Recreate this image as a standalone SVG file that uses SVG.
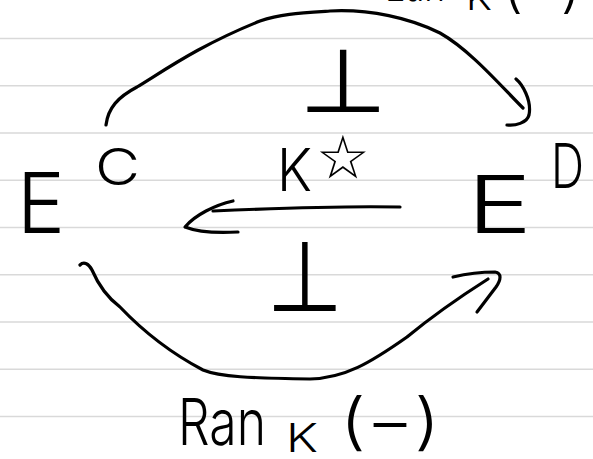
<svg xmlns="http://www.w3.org/2000/svg" width="593" height="459" viewBox="0 0 593 459">
  <style>
    .rule { stroke: #d9d9d9; stroke-width: 1.6; }
    .ink { fill: none; stroke: #000; stroke-width: 3.2; stroke-linecap: round; stroke-linejoin: round; }
    .t { font-family: Inter, "Liberation Sans", "DejaVu Sans", sans-serif; font-weight: 300; fill: #000; }
    .sym { font-family: "DejaVu Sans", sans-serif; fill: #000; }
  </style>
  <rect width="593" height="459" fill="#fff"/>
  <g id="paper">
    <line class="rule" x1="0" y1="38.5" x2="593" y2="38.5"/>
    <line class="rule" x1="0" y1="85.75" x2="593" y2="85.75"/>
    <line class="rule" x1="0" y1="133" x2="593" y2="133"/>
    <line class="rule" x1="0" y1="180.25" x2="593" y2="180.25"/>
    <line class="rule" x1="0" y1="227.5" x2="593" y2="227.5"/>
    <line class="rule" x1="0" y1="274.75" x2="593" y2="274.75"/>
    <line class="rule" x1="0" y1="322" x2="593" y2="322"/>
    <line class="rule" x1="0" y1="369.25" x2="593" y2="369.25"/>
    <line class="rule" x1="0" y1="416.5" x2="593" y2="416.5"/>
  </g>
  <g id="connectors">
    <g id="top-arrow">
      <path class="ink" d="M106,125 C108,108 118,97 137,87 C165,70 200,45 260,21 C280,14 300,13 330,11 C370,9 410,18 440,33 C470,50 500,85 523,108"/>
      <path class="ink" d="M516,79 C522,84 532,100 529,115 C527,123 515,126 507,125"/>
    </g>
    <g id="middle-arrow">
      <path class="ink" d="M400,207 C350,206 280,208 213,211"/>
      <path class="ink" d="M233,201 C215,205 195,215 185,227 C200,233 220,233 238,232"/>
    </g>
    <g id="bottom-arrow">
      <path class="ink" d="M80,265 C84,261 89,264 92,270 C98,284 108,298 120,307 C140,328 165,350 203,370 C220,377 250,378 310,379 C345,378 370,363 407,337 C430,318 455,300 488,279"/>
      <path class="ink" d="M453,277 C470,273 485,272 495,272 C502,273 501,280 496,287 L477,312"/>
    </g>
  </g>
  <g id="node-EC">
    <text class="t" x="17" y="233" font-size="84" textLength="48" lengthAdjust="spacingAndGlyphs">E</text>
    <text class="t" x="95" y="185" font-size="51" textLength="45" lengthAdjust="spacingAndGlyphs">C</text>
  </g>
  <g id="node-ED">
    <text class="t" x="467" y="233" font-size="80" textLength="65" lengthAdjust="spacingAndGlyphs">E</text>
    <text class="t" x="551" y="188" font-size="62" textLength="33" lengthAdjust="spacingAndGlyphs">D</text>
  </g>
  <g id="label-top">
    <text class="sym" transform="translate(343,112) scale(1,0.87)" font-size="102" text-anchor="middle">⊥</text>
  </g>
  <g id="label-middle">
    <text class="t" x="277" y="191" font-size="59" textLength="35" lengthAdjust="spacingAndGlyphs">K</text>
    <text class="sym" x="343" y="178" font-size="60" text-anchor="middle">☆</text>
  </g>
  <g id="label-bottom">
    <text class="sym" transform="translate(305,311) scale(1,1.12)" font-size="88" text-anchor="middle">⊥</text>
  </g>
  <g id="label-ran">
    <text class="t" x="178" y="445" font-size="64" textLength="88" lengthAdjust="spacingAndGlyphs">Ran</text>
    <text class="t" x="286" y="452" font-size="40" textLength="32" lengthAdjust="spacingAndGlyphs">K</text>
    <text class="t" x="340" y="443" font-size="62" textLength="100" lengthAdjust="spacingAndGlyphs">(−)</text>
  </g>
  <g id="label-lan">
    <text class="t" x="385" y="1" font-size="60" textLength="60" lengthAdjust="spacingAndGlyphs">Lan</text>
    <text class="t" x="466" y="10" font-size="36" textLength="26" lengthAdjust="spacingAndGlyphs">K</text>
    <text class="t" x="503" y="7" font-size="52" textLength="78" lengthAdjust="spacingAndGlyphs">(−)</text>
  </g>
</svg>
